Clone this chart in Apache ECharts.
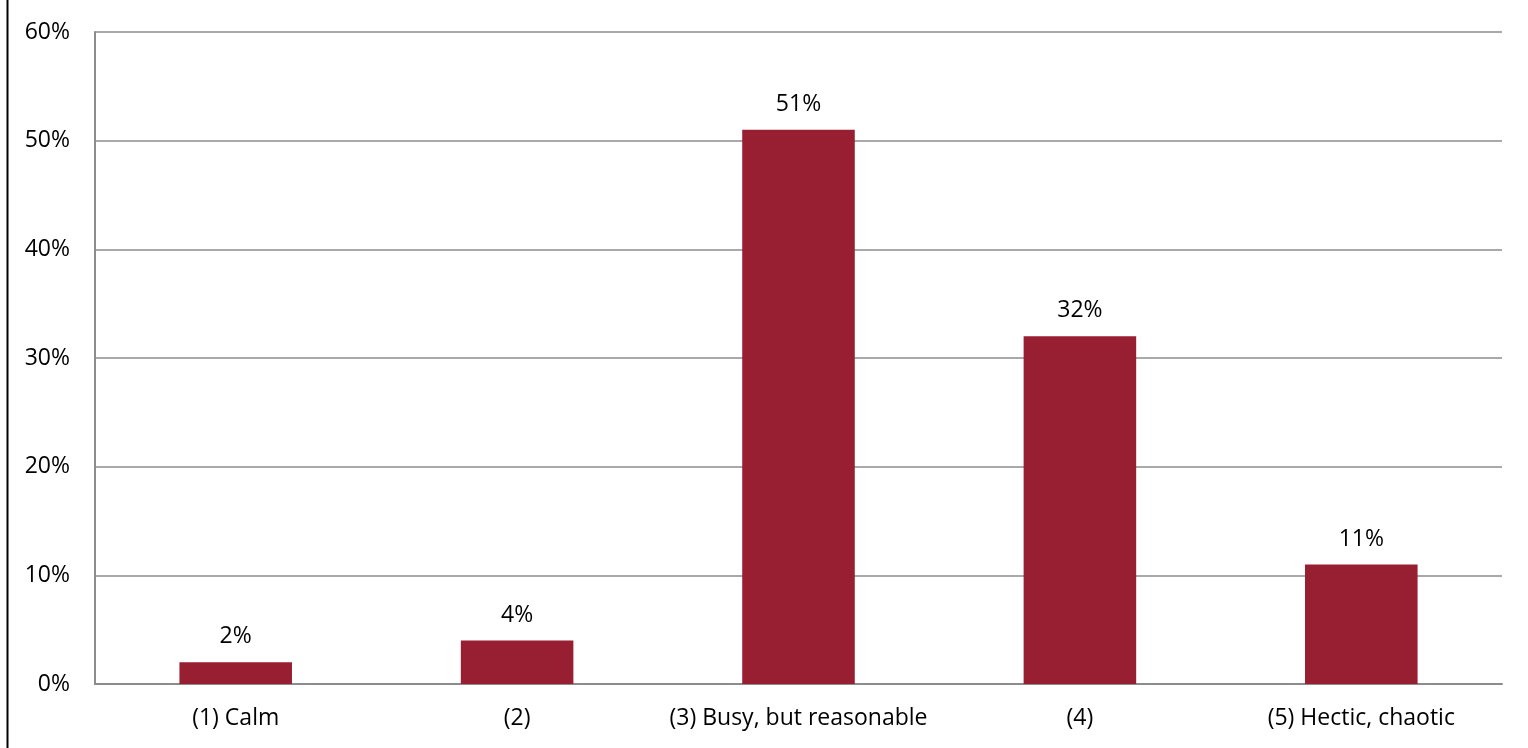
<!DOCTYPE html>
<html>
<head>
<meta charset="utf-8">
<style>
  html, body { margin: 0; padding: 0; background: #fff; }
  #chart { width: 1528px; height: 748px; }
</style>
<script src="https://cdn.jsdelivr.net/npm/echarts@6/dist/echarts.min.js"></script>
</head>
<body>
<div id="chart"></div>
<script>
// Survey responses: how the workplace feels, share of respondents (%)
const categories = ['(1) Calm', '(2)', '(3) Busy, but reasonable', '(4)', '(5) Hectic, chaotic'];
const shares = [2, 4, 51, 32, 11];
const yTicks = [0, 10, 20, 30, 40, 50, 60];

const barColor = '#981E32';
const fontFamily = '"Open Sans", "Liberation Sans", sans-serif';

const chart = echarts.init(document.getElementById('chart'), null, { renderer: 'canvas' });

chart.setOption({
  backgroundColor: '#ffffff',
  animation: false,
  graphic: [{
    type: 'line',
    shape: { x1: 7.5, y1: 0, x2: 7.5, y2: 748 },
    style: { stroke: '#000000', lineWidth: 2 }
  }],
  grid: { left: 95, right: 26, top: 32, bottom: 64, containLabel: false },
  xAxis: {
    type: 'category',
    data: categories,
    axisLine: { lineStyle: { color: '#8c8c8c', width: 2 } },
    axisTick: { show: false },
    axisLabel: { color: '#000', fontSize: 23, fontFamily, margin: 23, interval: 0, hideOverlap: false }
  },
  yAxis: {
    type: 'value',
    min: yTicks[0],
    max: yTicks[yTicks.length - 1],
    interval: 10,
    axisLine: { show: true, lineStyle: { color: '#8c8c8c', width: 2 } },
    axisTick: { show: false },
    splitLine: { lineStyle: { color: '#8c8c8c', width: 1.5 } },
    axisLabel: { color: '#000', fontSize: 23, fontFamily, margin: 25, formatter: v => v + '%' }
  },
  series: [{
    type: 'bar',
    data: shares,
    barWidth: '40%',
    itemStyle: { color: barColor },
    label: {
      show: true,
      position: 'top',
      distance: 14,
      color: '#000',
      fontSize: 23,
      fontFamily,
      formatter: p => p.value + '%'
    }
  }]
});
</script>
</body>
</html>
